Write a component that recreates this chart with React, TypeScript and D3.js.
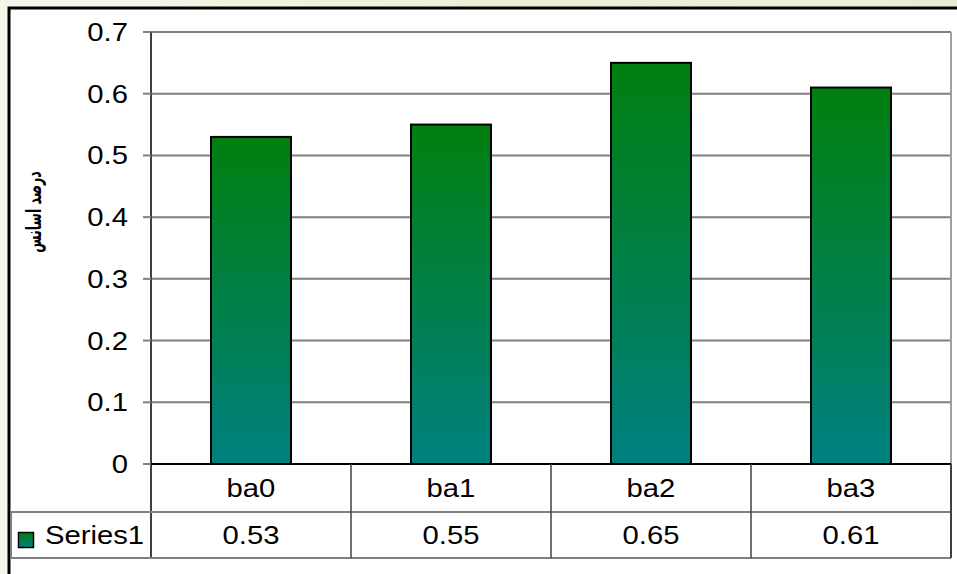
import * as d3 from 'd3';

const categories = ['ba0', 'ba1', 'ba2', 'ba3'];
const series1 = [0.53, 0.55, 0.65, 0.61];
const yTicks = [0, 0.1, 0.2, 0.3, 0.4, 0.5, 0.6, 0.7];
const seriesName = 'Series1';
const yTitle = 'درصد اسانس';

const W = 957;
const H = 574;
const SX = 1.17; // the original text is stretched horizontally
const FS = 25;
const FONT = '"Liberation Sans", Arial, sans-serif';

function Txt({ x, y, anchor, children }: { x: number; y: number; anchor: string; children: any }) {
  return (
    <text
      transform={`translate(${x},${y}) scale(${SX},1)`}
      textAnchor={anchor}
      fontFamily={FONT}
      fontSize={FS}
      fill="#000"
    >
      {children}
    </text>
  );
}

export default function App() {
  const plotLeft = 151;
  const plotRight = 951;
  const plotTop = 32;
  const plotBottom = 464;
  const row1Bottom = 512;
  const row2Bottom = 558;
  const tableLeft = 11;

  const x = d3.scaleBand<string>().domain(categories).range([plotLeft, plotRight]).paddingInner(0.6).paddingOuter(0.3);
  const step = (plotRight - plotLeft) / categories.length;
  const y = d3.scaleLinear().domain([0, 0.7]).range([plotBottom, plotTop]);
  const fmtTick = (d: number) => (d === 0 ? '0' : d3.format('.1f')(d));
  const fmtVal = d3.format('.2f');

  return (
    <svg width={W} height={H} style={{ position: 'absolute', left: 0, top: 0 }}>
      <defs>
        <linearGradient id="bg" x1="0" y1="0" x2="1" y2="0">
          <stop offset="0" stopColor="#f4f6ec" />
          <stop offset="0.5" stopColor="#eef0d4" />
          <stop offset="1" stopColor="#e9eed2" />
        </linearGradient>
        <linearGradient id="barGrad" x1="0" y1="0" x2="0" y2="1">
          <stop offset="0" stopColor="#007f0f" />
          <stop offset="1" stopColor="#008080" />
        </linearGradient>
      </defs>
      <rect x={0} y={0} width={W} height={H} fill="url(#bg)" />
      <rect x={9} y={8} width={W + 20} height={H + 20} fill="#fff" stroke="#000" strokeWidth={3} />

      {/* gridlines */}
      {yTicks.map((t) => (
        <line key={t} x1={plotLeft} x2={plotRight} y1={y(t)} y2={y(t)} stroke="#808080" strokeWidth={2} />
      ))}
      <line x1={plotRight} x2={plotRight} y1={plotTop} y2={plotBottom} stroke="#a0a0a0" strokeWidth={2} />

      {/* bars */}
      {categories.map((c, i) => (
        <rect
          key={c}
          x={x(c)}
          y={y(series1[i])}
          width={x.bandwidth()}
          height={plotBottom - y(series1[i])}
          fill="url(#barGrad)"
          stroke="#000"
          strokeWidth={2}
        />
      ))}

      {/* y axis */}
      <line x1={plotLeft} x2={plotLeft} y1={plotTop} y2={row2Bottom} stroke="#404040" strokeWidth={2} />
      {yTicks.map((t) => (
        <g key={t}>
          <line x1={plotLeft - 8} x2={plotLeft} y1={y(t)} y2={y(t)} stroke="#808080" strokeWidth={2} />
          <Txt x={128} y={y(t) + 9} anchor="end">
            {fmtTick(t)}
          </Txt>
        </g>
      ))}
      <line x1={plotLeft} x2={plotRight} y1={plotBottom} y2={plotBottom} stroke="#000" strokeWidth={2} />

      {/* data table */}
      <line x1={tableLeft} x2={plotRight} y1={row1Bottom} y2={row1Bottom} stroke="#808080" strokeWidth={2} />
      <line x1={tableLeft} x2={plotRight} y1={row2Bottom} y2={row2Bottom} stroke="#808080" strokeWidth={2} />
      <line x1={tableLeft} x2={tableLeft} y1={row1Bottom} y2={row2Bottom} stroke="#808080" strokeWidth={2} />
      <line x1={plotRight} x2={plotRight} y1={plotBottom} y2={row2Bottom} stroke="#404040" strokeWidth={2} />
      {categories.slice(1).map((c) => (
        <line key={c} x1={x(c)! - (step - x.bandwidth()) / 2} x2={x(c)! - (step - x.bandwidth()) / 2} y1={plotBottom} y2={row2Bottom} stroke="#404040" strokeWidth={1.5} />
      ))}
      {categories.map((c, i) => {
        const cx = x(c)! + x.bandwidth() / 2;
        return (
          <g key={c}>
            <Txt x={cx} y={497} anchor="middle">
              {c}
            </Txt>
            <Txt x={cx} y={544} anchor="middle">
              {fmtVal(series1[i])}
            </Txt>
          </g>
        );
      })}
      <rect x={18.5} y={532.5} width={15} height={15} fill="url(#barGrad)" stroke="#000" strokeWidth={1.5} />
      <Txt x={45} y={544} anchor="start">
        {seriesName}
      </Txt>

      {/* y title */}
      <text
        transform="translate(41,212) rotate(-90) scale(0.6,1)"
        textAnchor="middle"
        fontFamily='"DejaVu Sans", sans-serif'
        fontWeight="bold"
        fontSize={21}
        direction="rtl"
        fill="#000"
      >
        {yTitle}
      </text>
    </svg>
  );
}
